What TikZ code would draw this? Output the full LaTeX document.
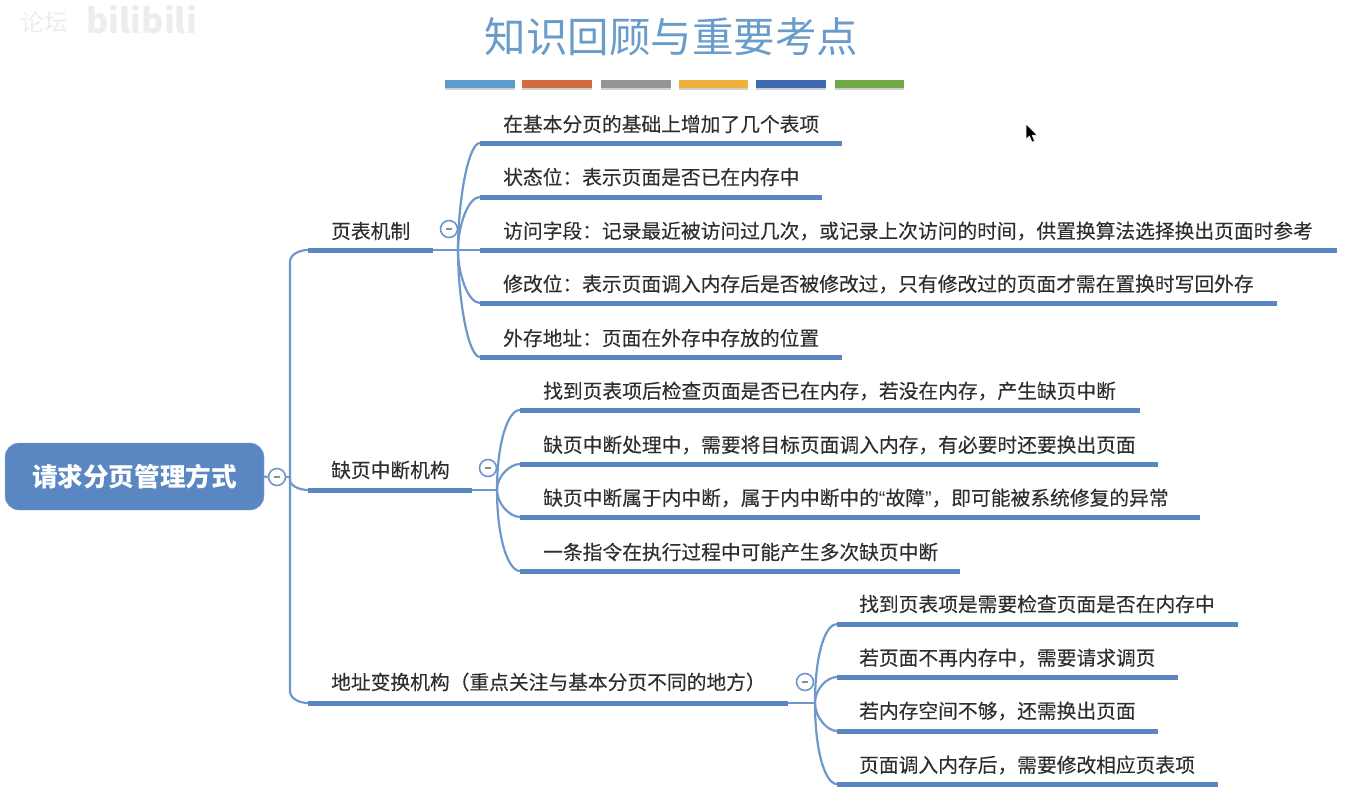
\documentclass[tikz,border=0pt]{standalone}
\usepackage{fontspec}
\setmainfont{Noto Sans CJK SC}
\newfontfamily\quotefont{Liberation Sans}
\usetikzlibrary{positioning,calc}
\definecolor{mapblue}{HTML}{5A87C2}
\definecolor{linkblue}{HTML}{6F97CB}
\definecolor{titleblue}{HTML}{6A9CCB}
\definecolor{inkgray}{HTML}{2E2E2E}

\begin{document}
\begin{tikzpicture}[
    x=1pt, y=-1pt,
    root/.style={rounded corners=14pt, fill=mapblue, draw=mapblue!70, minimum width=259pt, minimum height=67pt, text=white, font=\fontsize{25.6}{26}\selectfont\bfseries, inner sep=0pt},
    txt/.style={anchor=west, inner sep=0pt, text=inkgray, font=\fontsize{19.75}{20}\selectfont\addfontfeature{FakeBold=0.2}},
    bar/.style={draw=mapblue, line width=5pt},
    link/.style={draw=linkblue, line width=2.2pt},
    stem/.style={draw=linkblue, line width=1.5pt},
    far/.style={out distance=48pt, in distance=12pt},
    near/.style={out distance=24pt, in distance=12pt},
    fold/.style={circle, draw=linkblue, line width=1.6pt, fill=white, minimum size=17pt, inner sep=0pt},
    swatch/.style={line width=8pt, preaction={draw=black!18, line width=8pt, transform canvas={yshift=-2pt}}}
]
    \useasboundingbox (0,0) rectangle (1350,788);

    % Title and colour strip
    \node[text=titleblue, inner sep=0pt, font=\fontsize{41.5}{42}\selectfont] (title) at (671.5,37) {知识回顾与重要考点};
    \draw[swatch, draw={rgb,255:red,94;green,154;blue,203}] (445,84) -- (515,84);
    \draw[swatch, draw={rgb,255:red,210;green,107;blue,63}] (522,84) -- (592,84);
    \draw[swatch, draw={rgb,255:red,149;green,149;blue,149}] (601,84) -- (671,84);
    \draw[swatch, draw={rgb,255:red,238;green,177;blue,60}] (679,84) -- (748,84);
    \draw[swatch, draw={rgb,255:red,63;green,105;blue,176}] (756,84) -- (826,84);
    \draw[swatch, draw={rgb,255:red,112;green,168;blue,69}] (835,84) -- (904,84);

    % Faint marks at the top corner
    \node[anchor=west, inner sep=0pt, text=black!7, font=\fontsize{24}{24}\selectfont] (markA) at (20,22) {论坛};
    \node[anchor=west, inner sep=0pt, text=black!7, font=\fontsize{34}{34}\selectfont\bfseries] (markB) at (86,20) {bilibili};

    % Root and trunk
    \node[root] (R) at (134.5,476.5) {请求分页管理方式};
    \node[fold] (Rf) at (277,477) {};
    \draw[link] (R.east) -- (Rf.west);
    \coordinate (T) at (290,477);
    \draw[link] (Rf.east) -- (T);

    % Branch ends
    \coordinate (Aa) at (308,250);
    \coordinate (Ab) at (433,250);
    \coordinate (Ba) at (308,490);
    \coordinate (Bb) at (472,490);
    \coordinate (Ca) at (308,703);
    \coordinate (Cb) at (788,703);
    \draw[link] (T) -- (290,262) to[out=90, in=180, out distance=8pt, in distance=8pt] (Aa);
    \draw[link] (T) -- (290,480) to[out=270, in=180, out distance=6pt, in distance=8pt] (Ba);
    \draw[link] (T) -- (290,691) to[out=270, in=180, out distance=8pt, in distance=8pt] (Ca);
    \draw[bar] (Aa) -- (Ab);
    \draw[bar] (Ba) -- (Bb);
    \draw[bar] (Ca) -- (Cb);
    \node[txt] (A) at (331,231) {页表机制};
    \node[txt] (B) at (331,470) {缺页中断机构};
    \node[txt] (C) at (331,682) {地址变换机构（重点关注与基本分页不同的地方）};

    % First group
    \coordinate (Ah) at (458,250);
    \draw[stem] (Ab) -- (Ah);
    \node[fold] (Af) at (449,229) {};
    \coordinate (A1) at (480,143);
    \coordinate (A2) at (480,197);
    \coordinate (A3) at (480,250);
    \coordinate (A4) at (480,303);
    \coordinate (A5) at (480,357);
    \coordinate (A1e) at (842,143);
    \coordinate (A2e) at (822,197);
    \coordinate (A3e) at (1337,250);
    \coordinate (A4e) at (1277,303);
    \coordinate (A5e) at (842,357);
    \draw[link] (Ah) to[out=90, in=180, far] (A1);
    \draw[link] (Ah) to[out=90, in=180, near] (A2);
    \draw[stem] (Ah) -- (A3);
    \draw[link] (Ah) to[out=270, in=180, near] (A4);
    \draw[link] (Ah) to[out=270, in=180, far] (A5);
    \draw[bar] (A1) -- (A1e);
    \draw[bar] (A2) -- (A2e);
    \draw[bar] (A3) -- (A3e);
    \draw[bar] (A4) -- (A4e);
    \draw[bar] (A5) -- (A5e);
    \node[txt] (At1) at (503,124) {在基本分页的基础上增加了几个表项};
    \node[txt] (At2) at (503,177) {状态位：表示页面是否已在内存中};
    \node[txt] (At3) at (503,231) {访问字段：记录最近被访问过几次，或记录上次访问的时间，供置换算法选择换出页面时参考};
    \node[txt] (At4) at (503,284) {修改位：表示页面调入内存后是否被修改过，只有修改过的页面才需在置换时写回外存};
    \node[txt] (At5) at (503,338) {外存地址：页面在外存中存放的位置};

    % Second group
    \coordinate (Bh) at (497,490);
    \draw[stem] (Bb) -- (Bh);
    \node[fold] (Bf) at (488,468) {};
    \coordinate (B1) at (520,410);
    \coordinate (B2) at (520,464);
    \coordinate (B3) at (520,517);
    \coordinate (B4) at (520,571);
    \coordinate (B1e) at (1140,410);
    \coordinate (B2e) at (1158,464);
    \coordinate (B3e) at (1200,517);
    \coordinate (B4e) at (960,571);
    \draw[link] (Bh) to[out=90, in=180, far] (B1);
    \draw[link] (Bh) to[out=90, in=180, out distance=14pt, in distance=10pt] (B2);
    \draw[link] (Bh) to[out=270, in=180, out distance=14pt, in distance=10pt] (B3);
    \draw[link] (Bh) to[out=270, in=180, far] (B4);
    \draw[bar] (B1) -- (B1e);
    \draw[bar] (B2) -- (B2e);
    \draw[bar] (B3) -- (B3e);
    \draw[bar] (B4) -- (B4e);
    \node[txt] (Bt1) at (543,391) {找到页表项后检查页面是否已在内存，若没在内存，产生缺页中断};
    \node[txt] (Bt2) at (543,445) {缺页中断处理中，需要将目标页面调入内存，有必要时还要换出页面};
    \node[txt] (Bt3) at (543,498) {缺页中断属于内中断，属于内中断中的{\quotefont “}故障{\quotefont ”}，即可能被系统修复的异常};
    \node[txt] (Bt4) at (543,552) {一条指令在执行过程中可能产生多次缺页中断};

    % Third group
    \coordinate (Ch) at (815,703);
    \draw[stem] (Cb) -- (Ch);
    \node[fold] (Cf) at (805,682) {};
    \coordinate (C1) at (837,624);
    \coordinate (C2) at (837,677);
    \coordinate (C3) at (837,731);
    \coordinate (C4) at (837,784);
    \coordinate (C1e) at (1238,624);
    \coordinate (C2e) at (1178,677);
    \coordinate (C3e) at (1158,731);
    \coordinate (C4e) at (1218,784);
    \draw[link] (Ch) to[out=90, in=180, far] (C1);
    \draw[link] (Ch) to[out=90, in=180, out distance=14pt, in distance=10pt] (C2);
    \draw[link] (Ch) to[out=270, in=180, out distance=14pt, in distance=10pt] (C3);
    \draw[link] (Ch) to[out=270, in=180, far] (C4);
    \draw[bar] (C1) -- (C1e);
    \draw[bar] (C2) -- (C2e);
    \draw[bar] (C3) -- (C3e);
    \draw[bar] (C4) -- (C4e);
    \node[txt] (Ct1) at (859,604) {找到页表项是需要检查页面是否在内存中};
    \node[txt] (Ct2) at (859,658) {若页面不再内存中，需要请求调页};
    \node[txt] (Ct3) at (859,711) {若内存空间不够，还需换出页面};
    \node[txt] (Ct4) at (859,765) {页面调入内存后，需要修改相应页表项};

    % Minus signs in the fold buttons
    \draw[black!45, line width=1.4pt] ($(Rf)+(-3,0)$) -- ($(Rf)+(3,0)$);
    \draw[black!45, line width=1.4pt] ($(Af)+(-3,0)$) -- ($(Af)+(3,0)$);
    \draw[black!45, line width=1.4pt] ($(Bf)+(-3,0)$) -- ($(Bf)+(3,0)$);
    \draw[black!45, line width=1.4pt] ($(Cf)+(-3,0)$) -- ($(Cf)+(3,0)$);

    % Pointer
    \fill[black, draw=white, line width=0.5pt] (1026,124) -- (1026,139) -- (1029.5,136) -- (1032,142) -- (1034.5,141) -- (1032,135) -- (1037,135) -- cycle;
\end{tikzpicture}
\end{document}
